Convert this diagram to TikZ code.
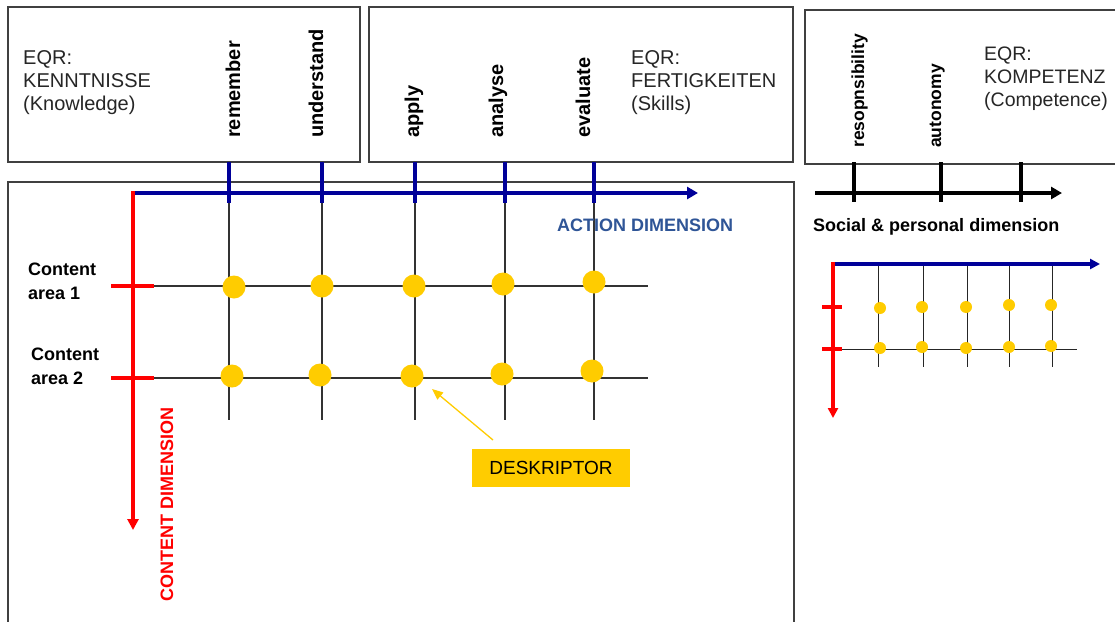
\documentclass[tikz,border=0pt]{standalone}
\usepackage{fontspec}
\setmainfont{Liberation Sans}
\usetikzlibrary{arrows.meta}
\definecolor{navyax}{RGB}{0,0,153}
\definecolor{dimblue}{RGB}{47,85,151}
\definecolor{dotyel}{RGB}{255,204,0}
\definecolor{boxgray}{RGB}{64,64,64}
\begin{document}
\begin{tikzpicture}[x=1pt,y=-1pt,
  frame/.style={draw=boxgray,line width=1.5pt},
  bluax/.style={draw=navyax,line width=4pt},
  bluetick/.style={draw=navyax,line width=4.5pt},
  redax/.style={draw=red,line width=4pt},
  blkax/.style={draw=black,line width=4pt},
  gridln/.style={draw=black!80,line width=1.2pt},
  bigdot/.style={circle,fill=dotyel,inner sep=0pt,minimum size=23pt},
  smalldot/.style={circle,fill=dotyel,inner sep=0pt,minimum size=12pt},
  vlab/.style={rotate=90,anchor=base west,inner sep=0pt,font=\fontsize{20}{24}\selectfont\bfseries},
  svlab/.style={rotate=90,anchor=base west,inner sep=0pt,font=\fontsize{17.5}{21}\selectfont\bfseries},
  eqr/.style={anchor=base west,inner sep=0pt,align=left,text=black!85,font=\fontsize{20}{23}\selectfont},
  calab/.style={anchor=base west,inner sep=0pt,align=left,font=\fontsize{18}{24}\selectfont\bfseries},
  dimlab/.style={anchor=base west,inner sep=0pt,font=\fontsize{18}{22}\selectfont\bfseries},
  tip/.style={-{Triangle[length=11pt,width=12pt]}},
]
\clip (0,0) rectangle (1115,621);
\fill[white] (0,0) rectangle (1115,621);

% frames
\draw[frame] (8,7) rectangle (360,162);
\draw[frame] (369,7) rectangle (793,162);
\draw[frame] (805,10) rectangle (1130,164);
\draw[frame] (8,182) rectangle (794,640);

% EQR labels (anchor = baseline of last line)
\node[eqr] (kn) at (23,110) {EQR:\\KENNTNISSE\\(Knowledge)};
\node[eqr] (sk) at (631,110) {EQR:\\FERTIGKEITEN\\(Skills)};
\node[eqr,font=\fontsize{19.5}{23}\selectfont] (co) at (984,106) {EQR:\\KOMPETENZ\\(Competence)};

% vertical labels
\node[vlab] (lrem) at (240,138) {remember};
\node[vlab] (lund) at (323,138) {understand};
\node[vlab] (lapp) at (419,138) {apply};
\node[vlab] (lana) at (503,138) {analyse};
\node[vlab] (leva) at (590,138) {evaluate};
\node[svlab] (lres) at (864,148) {resopnsibility};
\node[svlab] (laut) at (941,148) {autonomy};

% main grid
\coordinate (O) at (133,193);
\coordinate (Aend) at (698,193);
\coordinate (Otop) at (133,191);
\coordinate (Cend) at (133,530);
\foreach \n/\x in {1/229,2/322,3/415,4/505,5/594}{
  \coordinate (gt\n) at (\x,193);
  \coordinate (gb\n) at (\x,420);
  \coordinate (tt\n) at (\x,162);
  \coordinate (tb\n) at (\x,203);
  \draw[gridln] (gt\n) -- (gb\n);
}
\coordinate (h1a) at (143,286); \coordinate (h1b) at (648,286);
\coordinate (h2a) at (143,378); \coordinate (h2b) at (648,378);
\draw[gridln] (h1a) -- (h1b);
\draw[gridln] (h2a) -- (h2b);
\foreach \n in {1,...,5}{\draw[bluetick] (tt\n) -- (tb\n);}
\draw[bluax,tip] (O) -- (Aend);
\draw[redax,-{Triangle[length=11pt,width=11pt]}] (Otop) -- (Cend);
\coordinate (r1a) at (111,286); \coordinate (r1b) at (154,286);
\coordinate (r2a) at (111,378); \coordinate (r2b) at (154,378);
\draw[redax] (r1a) -- (r1b);
\draw[redax] (r2a) -- (r2b);

% dots
\node[bigdot] (d11) at (234,287) {};
\node[bigdot] (d12) at (322,286) {};
\node[bigdot] (d13) at (414,286) {};
\node[bigdot] (d14) at (503,284) {};
\node[bigdot] (d15) at (594,282) {};
\node[bigdot] (d21) at (232,376) {};
\node[bigdot] (d22) at (320,375) {};
\node[bigdot] (d23) at (412,376) {};
\node[bigdot] (d24) at (502,374) {};
\node[bigdot] (d25) at (592,371) {};

% labels main
\node[calab] (ca1) at (28,299) {Content\\area 1};
\node[calab] (ca2) at (31,384) {Content\\area 2};
\node[dimlab,text=dimblue] (adim) at (557,231) {ACTION DIMENSION};
\node[dimlab,text=red,rotate=90] (cdim) at (173,602) {CONTENT DIMENSION};

% descriptor
\node[fill=dotyel,minimum width=158pt,minimum height=38pt,inner sep=0pt,
      font=\fontsize{19}{22}\selectfont] (desk) at (551,468) {DESKRIPTOR};
\coordinate (dstart) at (493,440);
\coordinate (dtip) at (432,389);
\draw[draw=dotyel,line width=1.3pt,-{Triangle[length=11pt,width=9pt]}] (dstart) -- (dtip);

% social axis
\coordinate (S0) at (815,193);
\coordinate (S1) at (1062,193);
\draw[blkax,tip] (S0) -- (S1);
\foreach \n/\x in {1/854,2/941,3/1021}{
  \coordinate (st\n) at (\x,162);
  \coordinate (sb\n) at (\x,202);
  \draw[draw=black,line width=4.5pt] (st\n) -- (sb\n);
}
\node[dimlab] (sdim) at (813,231) {Social \& personal dimension};

% small chart
\coordinate (P) at (833,264);
\coordinate (Ptop) at (833,262);
\coordinate (PA) at (1100,264);
\coordinate (PC) at (833,418);
\foreach \n/\x in {1/878,2/923,3/967,4/1009,5/1052}{
  \coordinate (pt\n) at (\x,264);
  \coordinate (pb\n) at (\x,367);
  \draw[draw=black!85,line width=1pt] (pt\n) -- (pb\n);
}
\coordinate (ph1) at (837,349); \coordinate (ph2) at (1077,349);
\draw[draw=black!85,line width=1pt] (ph1) -- (ph2);
\draw[draw=navyax,line width=3.5pt,-{Triangle[length=10pt,width=10pt]}] (P) -- (PA);
\draw[draw=red,line width=3.5pt,-{Triangle[length=10pt,width=10pt]}] (Ptop) -- (PC);
\coordinate (q1a) at (822,307); \coordinate (q1b) at (842,307);
\coordinate (q2a) at (822,349); \coordinate (q2b) at (842,349);
\draw[draw=red,line width=3.5pt] (q1a) -- (q1b);
\draw[draw=red,line width=3.5pt] (q2a) -- (q2b);
\node[smalldot] (e11) at (880,308) {};
\node[smalldot] (e12) at (922,307) {};
\node[smalldot] (e13) at (966,307) {};
\node[smalldot] (e14) at (1009,305) {};
\node[smalldot] (e15) at (1051,305) {};
\node[smalldot] (e21) at (880,348) {};
\node[smalldot] (e22) at (922,347) {};
\node[smalldot] (e23) at (966,348) {};
\node[smalldot] (e24) at (1009,347) {};
\node[smalldot] (e25) at (1051,346) {};
\end{tikzpicture}
\end{document}
